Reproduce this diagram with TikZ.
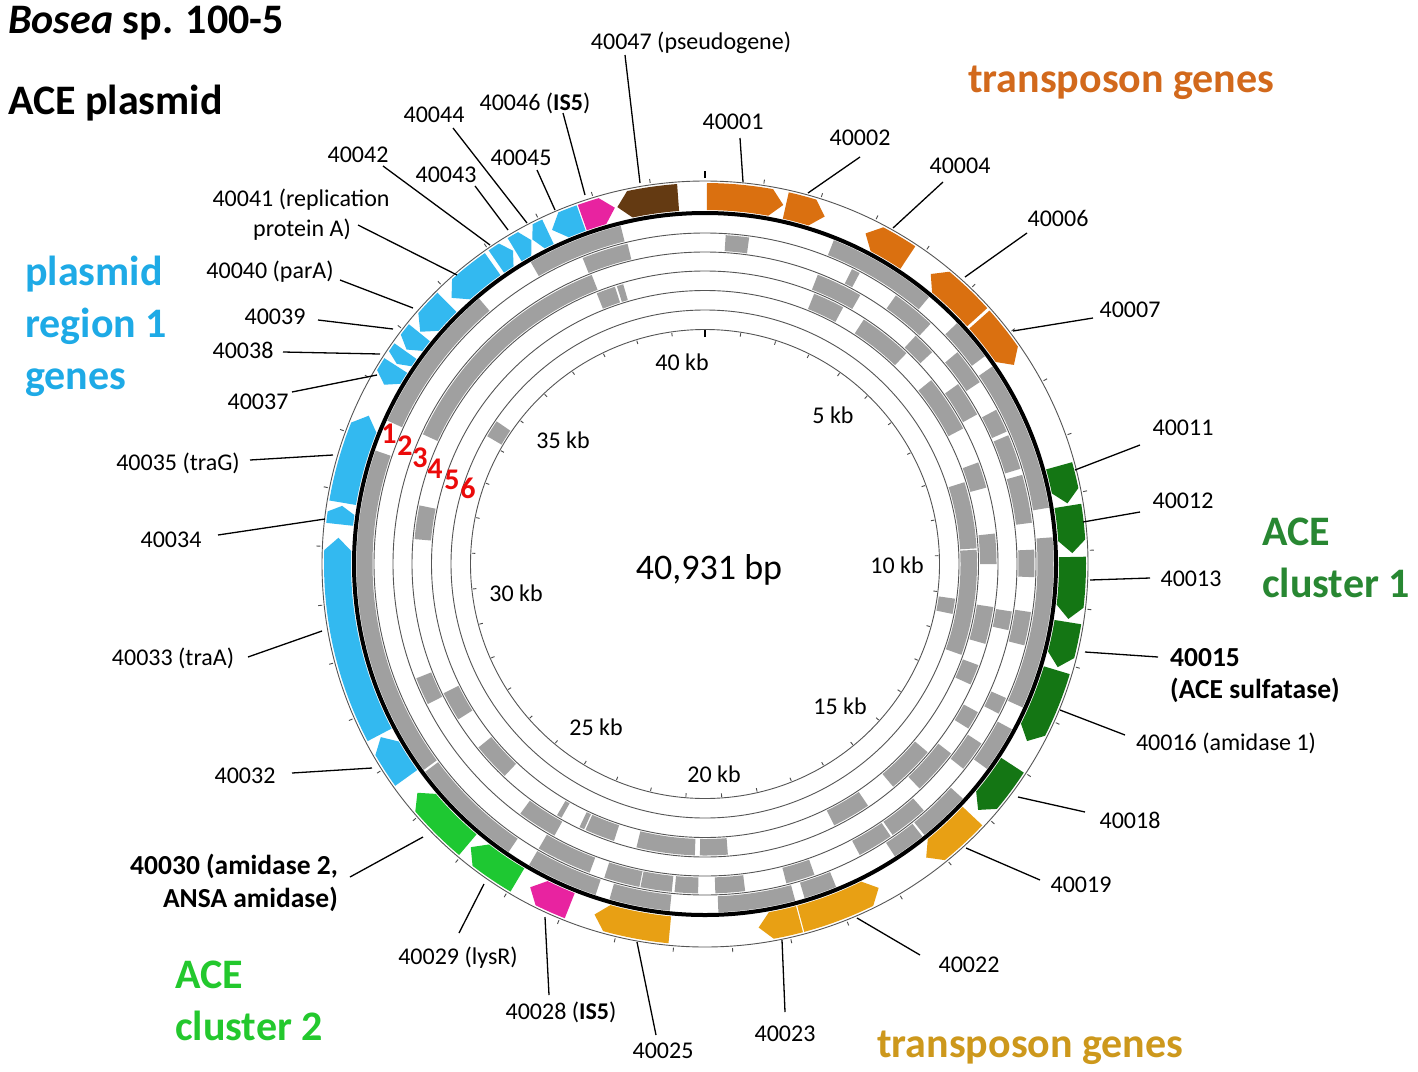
\documentclass[tikz,border=0pt]{standalone}
\usepackage{fontspec}
\setmainfont{Carlito}
\definecolor{cblue}{RGB}{51,185,240}
\definecolor{tblue}{RGB}{30,170,230}
\definecolor{corange}{RGB}{218,112,16}
\definecolor{torange}{RGB}{210,105,28}
\definecolor{cbrown}{RGB}{100,58,18}
\definecolor{cpink}{RGB}{232,35,160}
\definecolor{cdgreen}{RGB}{20,118,20}
\definecolor{tdgreen}{RGB}{40,135,50}
\definecolor{cbgreen}{RGB}{30,200,50}
\definecolor{tbgreen}{RGB}{35,200,45}
\definecolor{cyel}{RGB}{232,160,20}
\definecolor{tyel}{RGB}{205,152,28}
\definecolor{cgray}{RGB}{160,160,160}
\definecolor{cred}{RGB}{235,10,10}
\definecolor{cline}{RGB}{85,85,85}
\tikzset{
  lbl/.style={font=\fontsize{24}{28}\selectfont, inner sep=0pt, anchor=base},
  lblb/.style={font=\fontsize{27.5}{32}\selectfont\bfseries, inner sep=0pt},
  big/.style={font=\fontsize{42}{50}\selectfont\bfseries, inner sep=0pt, anchor=base west},
  kblbl/.style={font=\fontsize{24}{28}\selectfont, inner sep=0pt, anchor=base},
  num/.style={font=\fontsize{30}{34}\selectfont\bfseries, text=cred, inner sep=0pt, anchor=base},
  lead/.style={line width=1.3pt, black},
  ringline/.style={line width=0.9pt, cline},
  tickmark/.style={line width=0.9pt, gray!60!black},
}
\def\myri{354}\def\myro{381}\def\myrm{367.5}\def\mytip{2.0}
% clockwise gene: #1 start (larger angle), #2 end = tip (smaller angle)
\newcommand{\gcw}[3]{%
  \pgfmathsetmacro{\myt}{min(\mytip,0.4*(#1-(#2)))}%
  \pgfmathsetmacro{\myx}{#2+\myt}%
  \fill[#3] (#1:\myro) arc[start angle=#1, end angle=\myx, radius=\myro] -- (#2:\myrm) -- (\myx:\myri) arc[start angle=\myx, end angle=#1, radius=\myri] -- cycle;}
% counter-clockwise gene: #1 tip (larger angle), #2 smaller angle
\newcommand{\gccw}[3]{%
  \pgfmathsetmacro{\myt}{min(\mytip,0.4*(#1-(#2)))}%
  \pgfmathsetmacro{\myx}{#1-\myt}%
  \fill[#3] (#2:\myro) arc[start angle=#2, end angle=\myx, radius=\myro] -- (#1:\myrm) -- (\myx:\myri) arc[start angle=\myx, end angle=#2, radius=\myri] -- cycle;}
% gray block: #1 inner r, #2 outer r, #3 #4 angles
\newcommand{\gblk}[4]{%
  \fill[cgray] (#3:#2) arc[start angle=#3, end angle=#4, radius=#2] -- (#4:#1) arc[start angle=#4, end angle=#3, radius=#1] -- cycle;}
\begin{document}
\begin{tikzpicture}[x=1pt,y=-1pt]
\useasboundingbox (0,0) rectangle (1418,1071);
\fill[white] (0,0) rectangle (1418,1071);
\begin{scope}[shift={(705,564)},y=1pt]
  % ---- gray tracks ----
  \foreach \a/\b in {104/120, 130.4/155.7, 161/216.2, 216.6/235.7, 239.7/251.7, 254.1/264.2, 272.2/285, 286.6/292.1, 303/308.6, 309/317.7, 324/331.7, 335.7/364.4, 9.3/34.5, 36.6/43.7, 50/68.3}
    {\gblk{332.5}{348.5}{\a}{\b}}
  \foreach \a/\b in {82.3/86.4, 103.6/111.8, 239.7/249.5, 252.2/258.5, 258.7/264.2, 264.7/268.8, 271.8/277, 284.3/289.4, 298/304.3, 304.7/311.6, 321.6/327, 333/336, 345.7/351.6, 357.7/362.5, 7.2/15.7, 16.8/23, 23.7/27.9, 33.5/40, 46.8/54.6, 62/63.5}
    {\gblk{313.5}{329.5}{\a}{\b}}
  \foreach \a/\b in {111.4/155.3, 201.6/206.8, 233.5/241, 313.7/322.4, 328/331.5, 347.7/351.2, 28.8/35.4, 43/47.3, 60/68.7}
    {\gblk{294.5}{310.5}{\a}{\b}}
  \foreach \a/\b in {106.3/107.6, 108/111.8, 168.4/175.1, 206.3/212.2, 219/226.6, 239.5/240.5, 244.5/245.5, 245.8/251.8, 256.4/268, 269/274.5, 296.3/304, 310.2/319.8, 335.6/339.7, 344.1/351.5, 0/6, 15.2/20.4, 27.7/39.1, 46.3/57, 61.7/68}
    {\gblk{275}{291.5}{\a}{\b}}
  \foreach \a/\b in {340.5/363, 3.3/17.5}
    {\gblk{255.5}{272}{\a}{\b}}
  \foreach \a/\b in {145.6/149.6, 348.6/352.1}
    {\gblk{236}{252.5}{\a}{\b}}
  % ---- circles ----
  \foreach \r in {331,312,293,273.5,254,234.5}
    {\draw[ringline] (0,0) circle[radius=\r];}
  \draw[ringline] (0,0) circle[radius=383];
  \draw[line width=4pt] (0,0) circle[radius=351];
  % ---- genes ----
  \gcw{89.7}{77.7}{corange}
  \gcw{77.3}{71}{corange}
  \gccw{64.1}{56.5}{corange}
  \gccw{52.1}{42.2}{corange}
  \gcw{41.7}{32.8}{corange}
  \gcw{15.5}{9.5}{cdgreen}
  \gcw{9.1}{1.7}{cdgreen}
  \gcw{1.1}{-8.6}{cdgreen}
  \gcw{-9.1}{-16.3}{cdgreen}
  \gcw{-16.8}{-28.8}{cdgreen}
  \gcw{-33.2}{-42}{cdgreen}
  \gcw{-43.3}{-53}{cyel}
  \gccw{-61.8}{-74.9}{cyel}
  \gcw{-75.1}{-81.6}{cyel}
  \gcw{-95.5}{-107.5}{cyel}
  \gcw{-111.6}{-118.4}{cpink}
  \gcw{-120.7}{-129.6}{cbgreen}
  \gcw{-130.2}{-141.5}{cbgreen}
  \gcw{215.6}{208.1}{cblue}
  \gcw{207.7}{175.9}{cblue}
  \gcw{173.8}{170.9}{cblue}
  \gcw{170.4}{156.2}{cblue}
  \gccw{150.8}{147.3}{cblue}
  \gccw{147.0}{144.6}{cblue}
  \gccw{144.3}{141.0}{cblue}
  \gccw{140.8}{134.6}{cblue}
  \gccw{133.6}{125.3}{cblue}
  \gcw{124.6}{121.5}{cblue}
  \gcw{121.2}{118.2}{cblue}
  \gccw{118.0}{115.3}{cblue}
  \gccw{114.6}{109.7}{cblue}
  \gcw{109.5}{104.2}{cpink}
  \gccw{103.8}{94.2}{cbrown}
  % ---- ticks ----
  \foreach \k in {1,...,40} {
    \pgfmathsetmacro{\myang}{90-\k*8.79529}
    \draw[tickmark] (\myang:385) -- (\myang:389);
    \draw[tickmark] (\myang:230) -- (\myang:233.5);
  }
  \draw[line width=2pt] (90:386) -- (90:393);
  \draw[line width=2pt] (90:227) -- (90:234);
\end{scope}
% ---- kb labels ----
\node[kblbl] (k40) at (682,370) {40 kb};
\node[kblbl] (k5) at (833,423) {5 kb};
\node[kblbl] (k10) at (897,573) {10 kb};
\node[kblbl] (k15) at (840,714) {15 kb};
\node[kblbl] (k20) at (714,782) {20 kb};
\node[kblbl] (k25) at (596,735) {25 kb};
\node[kblbl] (k30) at (516,601) {30 kb};
\node[kblbl] (k35) at (563,448) {35 kb};
\node[font=\fontsize{36}{40}\selectfont, inner sep=0pt, anchor=base] (size) at (709,579) {40,931 bp};
% ---- track numbers ----
\node[num] (n1) at (389,443) {1};
\node[num] (n2) at (405,455) {2};
\node[num] (n3) at (420,467) {3};
\node[num] (n4) at (435,478) {4};
\node[num] (n5) at (452,489) {5};
\node[num] (n6) at (468,498) {6};
% ---- titles / groups ----
\node[big] (t1) at (8,33) {\textit{Bosea} sp. 100-5};
\node[big] (t2) at (8,114) {ACE plasmid};
\node[big, text=torange] (g1) at (968,92) {transposon genes};
\node[big, text=tblue] (g2a) at (25,285) {plasmid};
\node[big, text=tblue] (g2b) at (25,337) {region 1};
\node[big, text=tblue] (g2c) at (25,389) {genes};
\node[big, text=tdgreen] (g3a) at (1262,545) {ACE};
\node[big, text=tdgreen] (g3b) at (1262,597) {cluster 1};
\node[big, text=tbgreen] (g4a) at (175,988) {ACE};
\node[big, text=tbgreen] (g4b) at (175,1040) {cluster 2};
\node[big, text=tyel] (g5) at (877,1057) {transposon genes};
% ---- gene labels ----
\node[lbl] (l40047) at (691,49) {40047 (pseudogene)};
\node[lbl] (l40046) at (535,110) {40046 (\textbf{IS5})};
\node[lbl] (l40045) at (521,165) {40045};
\node[lbl] (l40044) at (434,122) {40044};
\node[lbl] (l40043) at (446,182) {40043};
\node[lbl] (l40042) at (358,162) {40042};
\node[lbl] (l40041a) at (301,206) {40041 (replication};
\node[lbl] (l40041b) at (302,236) {protein A)};
\node[lbl] (l40040) at (270,278) {40040 (parA)};
\node[lbl] (l40039) at (275,324) {40039};
\node[lbl] (l40038) at (243,358) {40038};
\node[lbl] (l40037) at (258,409) {40037};
\node[lbl] (l40035) at (178,470) {40035 (traG)};
\node[lbl] (l40034) at (171,547) {40034};
\node[lbl] (l40033) at (173,665) {40033 (traA)};
\node[lbl] (l40032) at (245,783) {40032};
\node[lblb, anchor=base east] (l40030a) at (338,874) {40030 (amidase 2,};
\node[lblb, anchor=base east] (l40030b) at (338,907) {ANSA amidase)};
\node[lbl] (l40029) at (458,964) {40029 (lysR)};
\node[lbl] (l40028) at (561,1019) {40028 (\textbf{IS5})};
\node[lbl] (l40025) at (663,1058) {40025};
\node[lbl] (l40023) at (785,1041) {40023};
\node[lbl] (l40022) at (969,972) {40022};
\node[lbl] (l40019) at (1081,892) {40019};
\node[lbl] (l40018) at (1130,828) {40018};
\node[lbl] (l40016) at (1226,750) {40016 (amidase 1)};
\node[lblb, anchor=base west] (l40015a) at (1170,666) {40015};
\node[lblb, anchor=base west] (l40015b) at (1170,698) {(ACE sulfatase)};
\node[lbl] (l40013) at (1191,586) {40013};
\node[lbl] (l40012) at (1183,508) {40012};
\node[lbl] (l40011) at (1183,435) {40011};
\node[lbl] (l40007) at (1130,317) {40007};
\node[lbl] (l40006) at (1058,226) {40006};
\node[lbl] (l40004) at (960,173) {40004};
\node[lbl] (l40002) at (860,145) {40002};
\node[lbl] (l40001) at (733,129) {40001};
% ---- leader lines ----
\foreach \n/\xa/\ya/\xb/\yb in {40047/625/55/640/183, 40046/563/113/585/195, 40045/537/170/555/210, 40044/453/128/527/223, 40043/475/186/508/230, 40042/383/166/490/245, 40041/358/225/457/275, 40040/340/280/413/308, 40039/318/320/393/329, 40038/283/352/380/354, 40037/292/392/377/375, 40035/250/460/333/455, 40034/218/535/325/519, 40033/248/657/322/631, 40032/292/773/372/768, 40030/350/877/423/837, 40029/459/933/484/884, 40028/549/995/545/917, 40025/656/1035/637/942, 40023/785/1012/782/940, 40022/920/955/857/918, 40019/1040/880/966/848, 40018/1085/812/1018/797, 40016/1125/735/1060/710, 40015/1158/657/1085/652, 40013/1150/578/1090/580, 40012/1140/512/1083/522, 40011/1140/445/1075/470, 40007/1093/318/1013/331, 40006/1027/233/965/277, 40004/943/182/893/228, 40002/860/157/808/193, 40001/740/138/743/182} {
  \coordinate (s\n) at (\xa,\ya);
  \coordinate (e\n) at (\xb,\yb);
  \draw[lead] (s\n) -- (e\n);
}
\end{tikzpicture}
\end{document}
